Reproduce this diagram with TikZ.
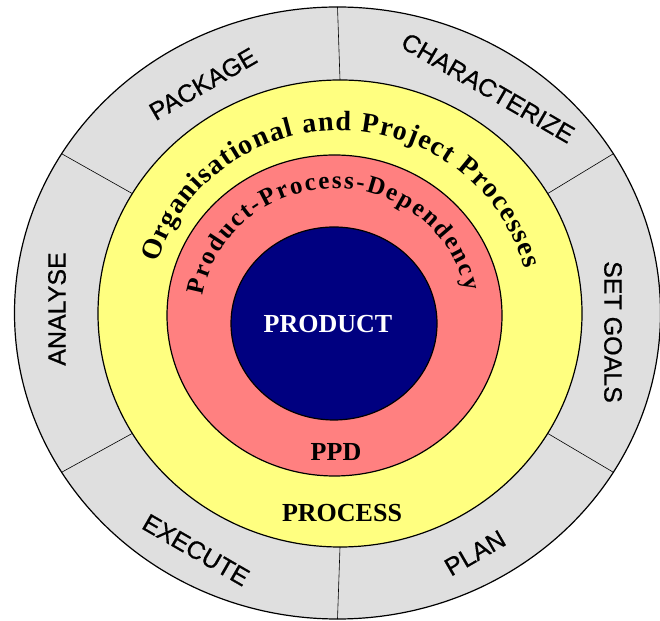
\documentclass[tikz,border=0pt]{standalone}
\usepackage{fontspec}
\setmainfont{Liberation Serif}
\setsansfont{Liberation Sans}
\newfontfamily\phasefont[FakeBold=0.7]{Liberation Sans}
\usepackage{xcolor}
\usetikzlibrary{shapes.geometric,decorations.text}

\definecolor{ringgray}{HTML}{DFDFDF}
\definecolor{procyellow}{HTML}{FFFF80}
\definecolor{ppdred}{HTML}{FF8080}
\definecolor{prodblue}{HTML}{000080}

\begin{document}
\begin{tikzpicture}[x=1pt, y=1pt, every node/.style={inner sep=0pt, outer sep=0pt},
  layer/.style={draw, ellipse, line width=1.2pt},
  phase/.style={font=\phasefont\fontsize{25}{25}\selectfont},
  core/.style={font=\bfseries\fontsize{26}{26}\selectfont}]
\useasboundingbox (0,0) rectangle (660,620);
% Rings
\node[layer, fill=ringgray, minimum width=646pt, minimum height=612pt] (cycle) at (337.5,307) {};
\node[layer, fill=procyellow, minimum width=484pt, minimum height=467pt] (process) at (340,306.5) {};
\node[layer, fill=ppdred, minimum width=335pt, minimum height=321pt] (ppd) at (334.5,304.5) {};
\node[layer, fill=prodblue, minimum width=206pt, minimum height=193pt] (product) at (334,296.5) {};
% Dividers
\foreach \a in {30,90,...,330}
  \draw[line width=0.6pt] (process.\a) -- (cycle.\a);
% Phases
\node[phase, rotate=30] (package) at (203,536) {PACKAGE};
\node[phase, rotate=-30] (characterize) at (488,532) {CHARACTERIZE};
\node[phase, rotate=-90] (setgoals) at (613,288) {SET GOALS};
\node[phase, rotate=30] (plan) at (475,67) {PLAN};
\node[phase, rotate=-30] (execute) at (196,70) {EXECUTE};
\node[phase, rotate=90] (analyse) at (57,311) {ANALYSE};
% Labels
\node[core, text=white] (productlbl) at (328,296) {PRODUCT};
\node[core] (ppdlbl) at (336,168) {PPD};
\node[core] (processlbl) at (342,107) {PROCESS};
\path[decorate, decoration={text along path, text align=fit to path,
    text={|\bfseries\fontsize{28}{28}\selectfont|Organisational and Project Processes}}]
  ([shift={(process.center)}]164:190pt and 183pt) arc[start angle=164, end angle=14, x radius=190pt, y radius=183pt];
\path[decorate, decoration={text along path, text align=fit to path,
    text={|\bfseries\fontsize{25}{25}\selectfont|Product-Process-Dependency}}]
  ([shift={(ppd.center)}]171:133pt and 127pt) arc[start angle=171, end angle=11, x radius=133pt, y radius=127pt];
\end{tikzpicture}
\end{document}
